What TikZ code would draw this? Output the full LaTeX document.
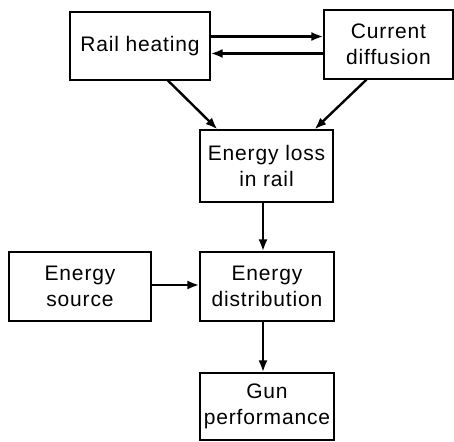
\documentclass[tikz,border=0pt]{standalone}
\usepackage{fontspec}
\setmainfont[LetterSpace=4]{Liberation Sans}
\usetikzlibrary{arrows.meta}
\begin{document}
\begin{tikzpicture}[x=1pt,y=-1pt,
  box/.style={draw,line width=1.2pt,inner sep=0pt,align=center,
    font=\fontsize{21}{26}\selectfont},
  arr/.style={line width=2.4pt,-{Latex[length=12pt,width=9pt]}}]
\useasboundingbox (0,0) rectangle (454,441);
\node[box,minimum width=140pt,minimum height=68pt] (rh) at (140,46) {Rail heating};
\node[box,minimum width=129pt,minimum height=69pt] (cd) at (388.5,44.5) {Current\\diffusion};
\node[box,minimum width=133pt,minimum height=72pt] (el) at (266.5,166) {Energy loss\\in rail};
\node[box,minimum width=134pt,minimum height=69pt] (ed) at (267,286.5) {Energy\\distribution};
\node[box,minimum width=142pt,minimum height=69pt] (es) at (80,286.5) {Energy\\source};
\node[box,minimum width=134pt,minimum height=67pt] (gp) at (267,406.5) {Gun\\performance};
\draw[arr] ([yshift=9.5pt]rh.east) -- ([yshift=9.5pt]rh.east -| cd.west);
\draw[arr] ([yshift=-9pt]cd.west) -- ([yshift=-9pt]cd.west -| rh.east);
\draw[arr] ([xshift=28pt]rh.south) -- ([xshift=-49pt]el.north);
\draw[arr] ([xshift=-22pt]cd.south) -- ([xshift=48pt]el.north);
\draw[arr] ([xshift=-3.5pt]el.south) -- ([xshift=-4pt]ed.north);
\draw[arr] ([yshift=1.5pt]es.east) -- ([yshift=1.5pt]es.east -| ed.west);
\draw[arr] ([xshift=-4pt]ed.south) -- ([xshift=-4pt]gp.north);
\end{tikzpicture}
\end{document}
